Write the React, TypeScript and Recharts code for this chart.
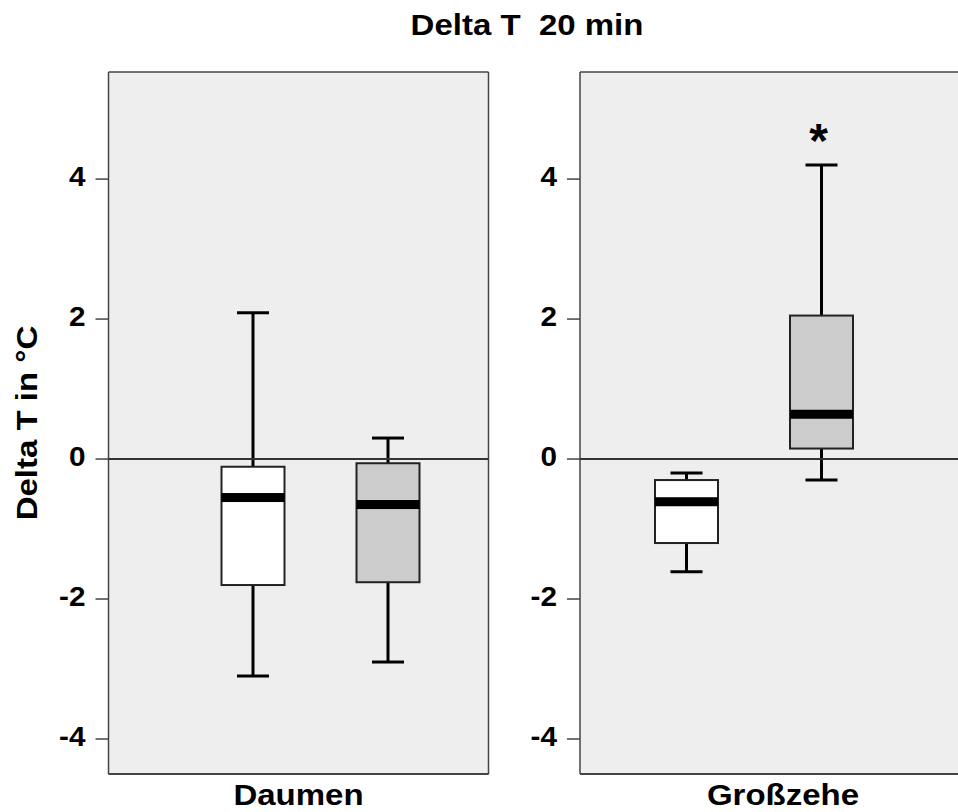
import React from 'react';
import {
  Bar,
  CartesianGrid,
  Cell,
  ComposedChart,
  ReferenceLine,
  XAxis,
  YAxis,
} from 'recharts';

// two groups per panel: white box and grey box
const groups = ['Gruppe 1', 'Gruppe 2'];
const boxFills = ['#ffffff', '#cccccc'];
const yTicks = [-4, -2, 0, 2, 4];

const daumenMin = [-3.1, -2.9];
const daumenQ1 = [-1.8, -1.76];
const daumenMedian = [-0.55, -0.65];
const daumenQ3 = [-0.11, -0.06];
const daumenMax = [2.09, 0.3];
const daumenSig = ['', ''];

const zeheMin = [-1.61, -0.3];
const zeheQ1 = [-1.2, 0.15];
const zeheMedian = [-0.61, 0.64];
const zeheQ3 = [-0.3, 2.05];
const zeheMax = [-0.2, 4.2];
const zeheSig = ['', '*'];

const font = 'Arial, "Liberation Sans", Helvetica, sans-serif';

function buildRows(min: number[], q1: number[], med: number[], q3: number[], max: number[], sig: string[]) {
  return groups.map((g, i) => ({
    group: g,
    min: min[i],
    q1: q1[i],
    median: med[i],
    q3: q3[i],
    max: max[i],
    sig: sig[i],
  }));
}

const daumenData = buildRows(daumenMin, daumenQ1, daumenMedian, daumenQ3, daumenMax, daumenSig);
const zeheData = buildRows(zeheMin, zeheQ1, zeheMedian, zeheQ3, zeheMax, zeheSig);

function BoxShape(props: any) {
  const { x, y, width, height, payload, fill } = props;
  const top = Math.min(y, y + height);
  const bottom = Math.max(y, y + height);
  const span = payload.max - payload.min;
  const py = (v: number) => top + ((payload.max - v) / span) * (bottom - top);
  const cx = x + width / 2;
  const cap = 16;
  return (
    <g>
      <line x1={cx} x2={cx} y1={py(payload.max)} y2={py(payload.q3)} stroke="#000" strokeWidth={3} />
      <line x1={cx} x2={cx} y1={py(payload.q1)} y2={py(payload.min)} stroke="#000" strokeWidth={3} />
      <line x1={cx - cap} x2={cx + cap} y1={py(payload.max)} y2={py(payload.max)} stroke="#000" strokeWidth={3} />
      <line x1={cx - cap} x2={cx + cap} y1={py(payload.min)} y2={py(payload.min)} stroke="#000" strokeWidth={3} />
      <rect
        x={x}
        y={py(payload.q3)}
        width={width}
        height={py(payload.q1) - py(payload.q3)}
        fill={fill}
        stroke="#222"
        strokeWidth={2}
      />
      <rect x={x} y={py(payload.median) - 4.5} width={width} height={9} fill="#000" />
      {payload.sig ? (
        <text
          x={cx - 3}
          y={py(payload.max) - 8}
          textAnchor="middle"
          fontFamily={font}
          fontWeight="bold"
          fontSize={48}
          fill="#000"
        >
          {payload.sig}
        </text>
      ) : null}
    </g>
  );
}

function YTick(props: any) {
  const { x, y, payload } = props;
  return (
    <text
      transform={`translate(${x},${y + 6.5}) scale(1.1,1)`}
      textAnchor="end"
      fontFamily={font}
      fontWeight="bold"
      fontSize={27}
      fill="#000"
    >
      {payload.value}
    </text>
  );
}

function PanelLabel(props: any) {
  const { viewBox, text } = props;
  if (!viewBox) return null;
  const cx = viewBox.x + viewBox.width / 2;
  return (
    <text
      transform={`translate(${cx},${viewBox.y + 31}) scale(1.1,1)`}
      textAnchor="middle"
      fontFamily={font}
      fontWeight="bold"
      fontSize={30}
      fill="#000"
    >
      {text}
    </text>
  );
}

function YTitle(props: any) {
  const { viewBox } = props;
  if (!viewBox) return null;
  const cy = viewBox.y + viewBox.height / 2;
  return (
    <text
      transform={`translate(${viewBox.x + 37},${cy}) rotate(-90) scale(1.1,1)`}
      textAnchor="middle"
      fontFamily={font}
      fontWeight="bold"
      fontSize={30}
      fill="#000"
    >
      Delta T in °C
    </text>
  );
}

interface PanelProps {
  data: ReturnType<typeof buildRows>;
  name: string;
  width: number;
  yAxisWidth: number;
  rightMargin: number;
  padLeft: number;
  padRight: number;
  withTitle: boolean;
}

function Panel({ data, name, width, yAxisWidth, rightMargin, padLeft, padRight, withTitle }: PanelProps) {
  return (
    <ComposedChart
      width={width}
      height={812}
      data={data}
      margin={{ top: 72, right: rightMargin, bottom: 0, left: 0 }}
    >
      <CartesianGrid
        fill="#eeeeee"
        stroke="#444"
        strokeWidth={1.5}
        horizontalCoordinatesGenerator={({ offset }: any) => [offset.top, offset.top + offset.height]}
        verticalCoordinatesGenerator={({ offset }: any) => [offset.left, offset.left + offset.width]}
      />
      <XAxis
        dataKey="group"
        type="category"
        height={38}
        padding={{ left: padLeft, right: padRight }}
        tick={false}
        tickLine={false}
        axisLine={{ stroke: '#444', strokeWidth: 2 }}
        label={<PanelLabel text={name} />}
      />
      <YAxis
        type="number"
        domain={[-4.5, 5.53]}
        ticks={yTicks}
        width={yAxisWidth}
        tickSize={13}
        tickMargin={10}
        axisLine={false}
        tickLine={{ stroke: '#444', strokeWidth: 1.5 }}
        tick={<YTick />}
        label={withTitle ? <YTitle /> : undefined}
      />
      <ReferenceLine y={0} stroke="#333" strokeWidth={2} />
      <Bar dataKey={(d: any) => [d.min, d.max]} barSize={63} shape={<BoxShape />} isAnimationActive={false}>
        {data.map((_, i) => (
          <Cell key={i} fill={boxFills[i]} />
        ))}
      </Bar>
    </ComposedChart>
  );
}

export default function App() {
  return (
    <div
      style={{
        position: 'absolute',
        left: 0,
        top: 0,
        width: 958,
        height: 812,
        overflow: 'hidden',
        background: '#fff',
      }}
    >
      <svg width={958} height={60} style={{ position: 'absolute', left: 0, top: 0 }}>
        <text
          transform="translate(527,35) scale(1.1,1)"
          textAnchor="middle"
          fontFamily={font}
          fontWeight="bold"
          fontSize={30}
          fill="#000"
          style={{ whiteSpace: 'pre' }}
        >
          {'Delta T  20 min'}
        </text>
      </svg>
      <div style={{ position: 'absolute', left: 0, top: 0 }}>
        <Panel
          data={daumenData}
          name="Daumen"
          width={490}
          yAxisWidth={108.5}
          rightMargin={1.5}
          padLeft={77}
          padRight={33}
          withTitle
        />
      </div>
      <div style={{ position: 'absolute', left: 490, top: 0 }}>
        <Panel
          data={zeheData}
          name="Großzehe"
          width={500}
          yAxisWidth={90}
          rightMargin={4}
          padLeft={39}
          padRight={97}
          withTitle={false}
        />
      </div>
    </div>
  );
}
